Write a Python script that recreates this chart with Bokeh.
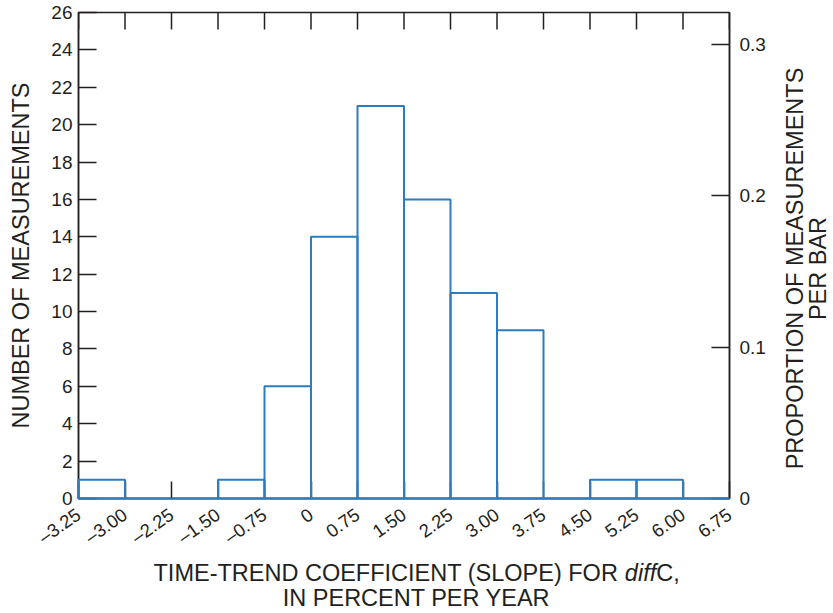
import math
from bokeh.plotting import figure
from bokeh.models import Range1d, LinearAxis, FixedTicker, Label
from bokeh.layouts import row, column
from bokeh.embed import file_html
from bokeh.resources import INLINE

# ---- data ----
bin_edges = [-3.75, -3.0, -2.25, -1.5, -0.75, 0.0, 0.75, 1.5, 2.25, 3.0, 3.75, 4.5, 5.25, 6.0, 6.75]
x_tick_labels = ["–3.25", "–3.00", "–2.25", "–1.50", "–0.75", "0", "0.75", "1.50",
                 "2.25", "3.00", "3.75", "4.50", "5.25", "6.00", "6.75"]
counts = [1, 0, 0, 1, 6, 14, 21, 16, 11, 9, 0, 1, 1, 0]
count_ticks = [0, 2, 4, 6, 8, 10, 12, 14, 16, 18, 20, 22, 24, 26]
prop_ticks = [0, 0.1, 0.2, 0.3]
prop_labels = ["0", "0.1", "0.2", "0.3"]

FONT = "Liberation Sans"
INK = "#231f20"
BLUE = "#2b7cc0"
TICK_FS = "19px"
XTICK_FS = "18.5px"
TITLE_PX = 23.5
TITLE_FS = f"{TITLE_PX}px"

total = sum(counts)
ymax = 26

MAIN_W, MAIN_H = 775, 559
SIDE_W = 833 - MAIN_W
FOOT_H = 613 - MAIN_H
FRAME_TOP, FRAME_BOTTOM = 12, 498

p = figure(width=MAIN_W, height=MAIN_H, output_backend="svg", toolbar_location=None,
           x_range=Range1d(bin_edges[0], bin_edges[-1]), y_range=Range1d(0, ymax),
           min_border_left=78, min_border_right=MAIN_W - 729, min_border_top=FRAME_TOP,
           min_border_bottom=MAIN_H - FRAME_BOTTOM,
           x_axis_location=None, y_axis_location=None)
p.grid.visible = False
p.outline_line_color = INK
p.outline_line_width = 1.5
p.background_fill_color = "white"
p.border_fill_color = "white"

p.extra_y_ranges = {"prop": Range1d(0, ymax / total)}

def style(ax, tick_in, fs=TICK_FS):
    ax.axis_line_color = INK
    ax.axis_line_width = 1.5
    ax.major_tick_line_color = INK
    ax.major_tick_line_width = 1.5
    ax.major_tick_in = tick_in
    ax.major_tick_out = 0
    ax.minor_tick_line_color = None
    ax.major_label_text_font = FONT
    ax.major_label_text_font_size = fs
    ax.major_label_text_color = INK
    ax.axis_label_text_font = FONT
    ax.axis_label_text_font_size = TITLE_FS
    ax.axis_label_text_font_style = "normal"
    ax.axis_label_text_color = INK

# left axis
yl = LinearAxis(ticker=FixedTicker(ticks=count_ticks), axis_label="NUMBER OF MEASUREMENTS")
style(yl, 18)
yl.major_label_standoff = 6
yl.axis_label_standoff = 14
p.add_layout(yl, "left")

# right axis (proportion)
yr = LinearAxis(y_range_name="prop", ticker=FixedTicker(ticks=prop_ticks),
                major_label_overrides=dict(zip(prop_ticks, prop_labels)))
style(yr, 18)
yr.major_label_standoff = 10
p.add_layout(yr, "right")

# bottom axis
xb = LinearAxis(ticker=FixedTicker(ticks=bin_edges),
                major_label_overrides=dict(zip(bin_edges, x_tick_labels)))
style(xb, 17, XTICK_FS)
xb.major_label_orientation = 0.61
xb.major_label_standoff = 14
p.add_layout(xb, "below")

# top ticks (inward, clipped by the frame)
p.scatter(x=bin_edges, y=[ymax] * len(bin_edges), marker="dash", size=34,
          angle=math.pi / 2, line_color=INK, line_width=1.5)

# bars (drawn above the axes so the blue edges cover the inner ticks)
p.quad(left=bin_edges[:-1], right=bin_edges[1:], bottom=0, top=counts,
       fill_color=None, line_color=BLUE, line_width=2, level="overlay")


def text_panel(w, h):
    f = figure(width=w, height=h, output_backend="svg", toolbar_location=None,
               x_range=Range1d(0, 1), y_range=Range1d(0, 1),
               min_border=0, x_axis_location=None, y_axis_location=None)
    f.grid.visible = False
    f.outline_line_color = None
    f.background_fill_color = "white"
    f.border_fill_color = "white"
    return f


def lab(fig, text, x, y, align="center", angle=0.0, style="normal", baseline="alphabetic"):
    fig.add_layout(Label(x=x, y=y, x_units="screen", y_units="screen", text=text,
                         text_font=FONT, text_font_size=TITLE_FS, text_color=INK,
                         text_align=align, text_baseline=baseline, angle=angle,
                         text_font_style=style))


# right-hand title (reads bottom to top); this panel's frame lines up with the main frame
side = text_panel(SIDE_W, MAIN_H)
yc = FRAME_BOTTOM - 268
lab(side, "PROPORTION OF MEASUREMENTS", 794 - MAIN_W, yc, angle=math.pi / 2, baseline="middle")
lab(side, "PER BAR", 817 - MAIN_W, yc, angle=math.pi / 2, baseline="middle")

# x-axis title with italic "diff"
foot = text_panel(833, FOOT_H)
x0 = 153
base1 = 41
base2 = 16
part1 = "TIME-TREND COEFFICIENT (SLOPE) FOR"
lab(foot, part1, x0, base1, align="left")
x1 = x0 + 20.057 * TITLE_PX
lab(foot, "diff", x1, base1, align="left", style="italic")
x2 = x1 + 1.334 * TITLE_PX
lab(foot, "C,", x2, base1, align="left")
lab(foot, "IN PERCENT PER YEAR", x0 + 22.391 * TITLE_PX / 2, base2)

layout = column(row(p, side, spacing=0), foot, spacing=0)
open("out.html", "w").write(file_html(layout, INLINE))
